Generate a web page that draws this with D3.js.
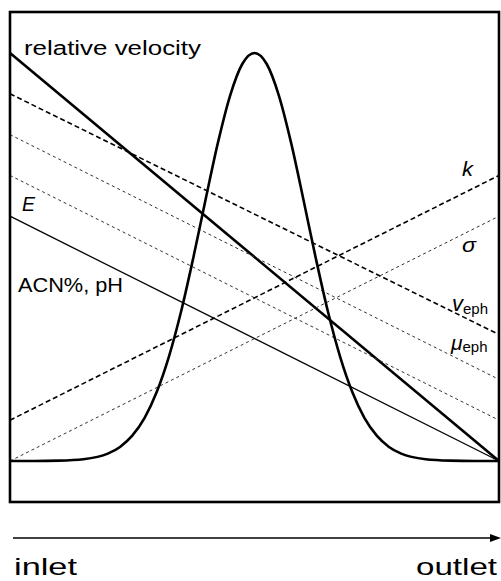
<!DOCTYPE html>
<html>
<head>
<meta charset="utf-8">
<script src="https://cdn.jsdelivr.net/npm/d3@7"></script>
<style>
  html, body { margin: 0; padding: 0; background: #fff; }
  svg { display: block; }
  text { font-family: "Liberation Sans", Arial, sans-serif; fill: #000; }
</style>
</head>
<body>
<svg id="chart" width="501" height="581"></svg>
<script>
// Position along the column: 0 = inlet, 1 = outlet
const ends = [0, 1];

// Linear profiles (relative value at inlet, at outlet)
const relVelocity = [1.0, 0.0];
const vEph        = [0.9, 0.31];
const muEph       = [0.8, 0.2];
const fieldE      = [0.7, 0.1];
const acnPH       = [0.6, 0.0];
const kFactor     = [0.1, 0.7];
const sigma       = [0.0, 0.6];

// Analyte zone (peak) profile along the column
const peakX = [0, 0.05, 0.1, 0.15, 0.2, 0.225, 0.25, 0.275, 0.3, 0.325, 0.35, 0.375, 0.4, 0.425, 0.45, 0.475,
               0.5, 0.525, 0.55, 0.575, 0.6, 0.625, 0.65, 0.675, 0.7, 0.725, 0.75, 0.775, 0.8, 0.85, 0.9, 0.95, 1];
const peakY = [0, 0, 0.0008, 0.0043, 0.018, 0.0345, 0.062, 0.105, 0.169, 0.256, 0.367, 0.499, 0.641, 0.779, 0.895, 0.973,
               1, 0.973, 0.895, 0.779, 0.641, 0.499, 0.367, 0.256, 0.169, 0.105, 0.062, 0.0345, 0.018, 0.0043, 0.0008, 0, 0];

const svg = d3.select("#chart");

const frame = { left: 10, right: 499, top: 12, bottom: 502 };
const x = d3.scaleLinear().domain([0, 1]).range([frame.left, frame.right]);
const y = d3.scaleLinear().domain([0, 1]).range([461, 53]);

const line = d3.line().x(d => x(d[0])).y(d => y(d[1]));

const profiles = [
  { values: relVelocity, width: 2.6, dash: null },
  { values: vEph,        width: 1.6, dash: "5,3" },
  { values: muEph,       width: 1.0, dash: "3,3" },
  { values: fieldE,      width: 1.0, dash: "3,3" },
  { values: acnPH,       width: 1.3, dash: null },
  { values: kFactor,     width: 1.6, dash: "5,3" },
  { values: sigma,       width: 1.0, dash: "3,3" }
];

const plot = svg.append("g");

plot.selectAll("path.profile")
  .data(profiles)
  .join("path")
  .attr("class", "profile")
  .attr("d", p => line(ends.map((e, i) => [e, p.values[i]])))
  .attr("fill", "none")
  .attr("stroke", p => p.dash === "3,3" ? "#333" : "#000")
  .attr("stroke-width", p => p.width)
  .attr("stroke-dasharray", p => p.dash);

// Peak
plot.append("path")
  .attr("d", d3.line().x(d => x(d[0])).y(d => y(d[1])).curve(d3.curveMonotoneX)(peakX.map((v, i) => [v, peakY[i]])))
  .attr("fill", "none")
  .attr("stroke", "#000")
  .attr("stroke-width", 2.6);

// Frame
svg.append("rect")
  .attr("x", frame.left).attr("y", frame.top)
  .attr("width", frame.right - frame.left).attr("height", frame.bottom - frame.top)
  .attr("fill", "none").attr("stroke", "#000").attr("stroke-width", 2.6);

// Labels
function label(txt, px, py, size, opts = {}) {
  const t = svg.append("text").attr("x", px).attr("y", py).attr("font-size", size).text(txt);
  if (opts.italic) t.attr("font-style", "italic");
  if (opts.len) t.attr("textLength", opts.len).attr("lengthAdjust", "spacingAndGlyphs");
  return t;
}

label("relative velocity", 24, 55, 20, { len: 177 });
label("E", 22, 211, 20, { italic: true, len: 13 });
label("ACN%, pH", 18, 292, 20, { len: 105 });
label("k", 462, 176, 20, { italic: true, len: 11 });
label("σ", 462, 252, 20, { italic: true, len: 14 });

// Subscripted labels
function subLabel(main, sub, px, py, size, subSize, subDy) {
  const t = svg.append("text").attr("x", px).attr("y", py).attr("font-size", size);
  t.append("tspan").attr("font-style", "italic").text(main);
  t.append("tspan").attr("font-size", subSize).attr("dy", subDy).text(sub);
}
subLabel("v", "eph", 452, 311, 22, 15, 3);
subLabel("μ", "eph", 451, 350, 21, 15, 2);

// Direction arrow
const arrowY = 538;
svg.append("line")
  .attr("x1", 13).attr("x2", 492)
  .attr("y1", arrowY).attr("y2", arrowY)
  .attr("stroke", "#000").attr("stroke-width", 1.6);
svg.append("path")
  .attr("d", `M490,${arrowY - 4} L501,${arrowY} L490,${arrowY + 4} Z`)
  .attr("fill", "#000");

label("inlet", 14, 575, 24, { len: 63 });
label("outlet", 416, 575, 24, { len: 81 });
</script>
</body>
</html>
